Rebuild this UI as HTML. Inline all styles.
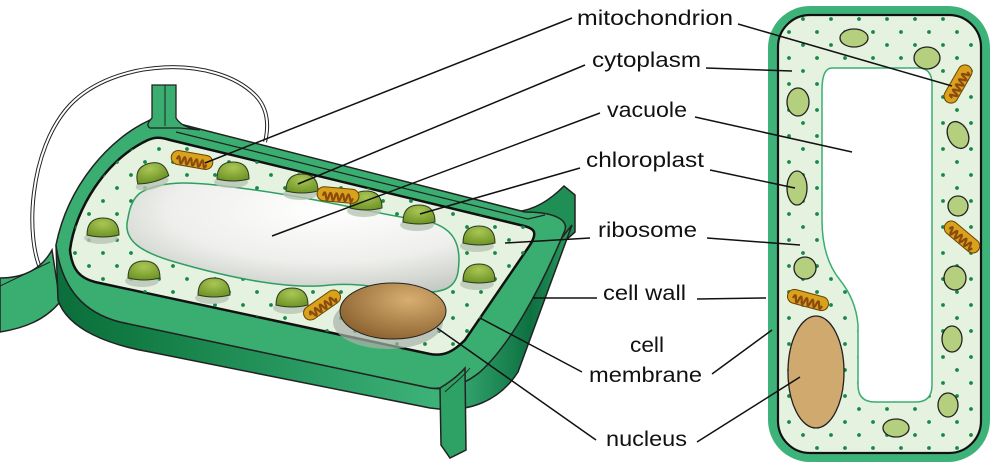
<!DOCTYPE html>
<html><head><meta charset="utf-8"><style>
html,body{margin:0;padding:0;background:#fff;width:1000px;height:470px;overflow:hidden}
svg{display:block}
text{font-family:"Liberation Sans",sans-serif;font-size:21px;fill:#111}
</style></head><body>
<svg width="1000" height="470" viewBox="0 0 1000 470" xmlns="http://www.w3.org/2000/svg">
<defs>
<pattern id="dots" width="28" height="26" patternUnits="userSpaceOnUse">
<circle cx="5" cy="6" r="1.9" fill="#17874a"/><circle cx="19" cy="19" r="1.9" fill="#17874a"/>
</pattern>
<linearGradient id="front" x1="0" y1="0" x2="1" y2="0">
<stop offset="0" stop-color="#0b6e3c"/><stop offset="0.15" stop-color="#117b43"/>
<stop offset="0.75" stop-color="#3db37a"/><stop offset="0.92" stop-color="#0d7040"/><stop offset="1" stop-color="#2a9c62"/>
</linearGradient>
<radialGradient id="vac" cx="0.6" cy="0.25" r="0.8">
<stop offset="0" stop-color="#fff"/><stop offset="0.6" stop-color="#eeefec"/><stop offset="1" stop-color="#c4c8c2"/>
</radialGradient>
<radialGradient id="chl" cx="0.5" cy="0.3" r="0.7">
<stop offset="0" stop-color="#a9c655"/><stop offset="1" stop-color="#6f9426"/>
</radialGradient>
<radialGradient id="nuc" cx="0.65" cy="0.3" r="0.75">
<stop offset="0" stop-color="#d8ae72"/><stop offset="1" stop-color="#8c6330"/>
</radialGradient>
<g id="ch">
<ellipse cx="-2" cy="8" rx="17" ry="6" fill="#b8c4b4" opacity="0.8"/>
<path d="M-16,5 Q-16,-12 0,-12 Q16,-12 16,5 Q0,9 -16,5 Z" fill="url(#chl)" stroke="#2d3a1e" stroke-width="1"/>
</g>
<g id="mi">
<rect x="-21" y="-7" width="42" height="14" rx="7" fill="#d8a21c" stroke="#6b4300" stroke-width="1"/>
<path d="M-15,2 q1.5,-7 3,0 q1.5,7 3,0 q1.5,-7 3,0 q1.5,7 3,0 q1.5,-7 3,0 q1.5,7 3,0 q1.5,-7 3,0 q1.5,7 3,0 q1.5,-7 3,0 q1.5,7 3,0" fill="none" stroke="#8a4a10" stroke-width="2.2"/>
</g>
</defs>

<!-- loop -->
<path d="M42,272 C25,240 28,150 70,105 C115,58 215,55 255,95 C270,110 268,130 265,142" fill="none" stroke="#222" stroke-width="4"/>
<path d="M42,272 C25,240 28,150 70,105 C115,58 215,55 255,95 C270,110 268,130 265,142" fill="none" stroke="#fff" stroke-width="2"/>

<!-- left stub -->
<path d="M0,278 C25,278 42,268 52,250 L60,302 C45,320 25,328 0,332 Z" fill="#3aad70" stroke="#222" stroke-width="1.5"/>
<line x1="0" y1="286" x2="50" y2="262" stroke="#222" stroke-width="1"/>
<!-- right upper stub -->
<path d="M515,212 C535,210 550,200 564,186 L575,195 L575,232 C560,245 545,260 538,275 Z" fill="#1f8f55" stroke="#222" stroke-width="1.5"/>
<!-- front face -->
<path d="M56,245 L58,300 C68,330 110,345 150,352 L430,408 C470,414 500,400 518,372 L572,225 L560,240 C540,290 510,345 470,378 C455,388 440,390 430,388 L120,322 C85,313 62,290 56,245 Z" fill="url(#front)" stroke="#222" stroke-width="1.5"/>
<!-- top wall -->
<path d="M150,120 C110,138 68,185 56,245 C62,290 85,313 120,322 L430,388 C455,390 470,380 480,372 C510,345 540,290 565,230 C568,220 555,212 525,212 L180,124 Z" fill="#3aad70" stroke="#222" stroke-width="1.5"/>
<!-- stalk -->
<path d="M152,85 L176,85 L176,118 Q182,128 200,130 L180,128 L150,128 Q145,125 152,118 Z" fill="#3aad70" stroke="#222" stroke-width="1.3"/>
<line x1="165" y1="85" x2="165" y2="126" stroke="#222" stroke-width="1"/>
<!-- right lower stub -->
<path d="M440,388 C450,382 458,376 465,368 L466,450 L450,458 L441,445 Z" fill="#2ea265" stroke="#222" stroke-width="1.5"/>
<path d="M445,392 C452,385 462,378 470,368" fill="none" stroke="#222" stroke-width="1"/>

<!-- interior -->
<path d="M148,140 C105,160 75,210 70,250 C72,270 80,278 95,282 L430,354 C445,357 455,350 465,340 L530,245 C538,232 535,228 520,225 L170,140 C160,137 155,137 148,140 Z" fill="#e6f2e0" stroke="#111" stroke-width="2.5"/>
<path d="M148,140 C105,160 75,210 70,250 C72,270 80,278 95,282 L430,354 C445,357 455,350 465,340 L530,245 C538,232 535,228 520,225 L170,140 C160,137 155,137 148,140 Z" fill="url(#dots)"/>
<path d="M176,132 L528,219 L545,215" fill="none" stroke="#222" stroke-width="1.2"/>
<!-- vacuole -->
<path d="M140,193 C165,178 200,183 240,188 C320,198 380,215 420,220 C455,225 462,245 458,272 C455,290 440,293 420,292 C390,290 360,282 330,285 C290,290 230,278 175,262 C140,252 122,240 128,218 C130,205 134,198 140,193 Z" fill="url(#vac)" stroke="#2f9e62" stroke-width="1.5"/>
<!-- nucleus -->
<ellipse cx="388" cy="322" rx="55" ry="27" fill="#a8b1a6" opacity="0.7"/>
<ellipse cx="393" cy="311" rx="53" ry="28" fill="url(#nuc)" stroke="#222" stroke-width="1"/>

<use href="#ch" transform="translate(152,175) rotate(-15)"/>
<use href="#ch" x="233" y="174"/>
<use href="#ch" x="302" y="186"/>
<use href="#ch" x="366" y="203"/>
<use href="#ch" x="419" y="217"/>
<use href="#ch" x="479" y="238"/>
<use href="#ch" x="103" y="230"/>
<use href="#ch" x="144" y="273"/>
<use href="#ch" x="214" y="290"/>
<use href="#ch" x="292" y="300"/>
<use href="#ch" x="479" y="276"/>
<use href="#mi" transform="translate(192,160) rotate(10)"/>
<use href="#mi" transform="translate(338,195) rotate(5)"/>
<use href="#mi" transform="translate(322,305) rotate(-35)"/>

<!-- right cell -->
<rect x="768" y="6" width="222" height="456" rx="42" fill="#3db37a"/>
<rect x="778" y="15" width="203" height="438" rx="32" fill="#e6f2e0" stroke="#111" stroke-width="2.2"/>
<rect x="778" y="15" width="203" height="438" rx="32" fill="url(#dots)"/>
<path d="M832,68 L918,68 Q932,68 932,84 L932,385 Q932,402 916,402 L875,402 Q858,402 858,385 L858,325 Q856,300 840,280 Q822,258 822,220 L822,90 Q822,68 832,68 Z" fill="#fff" stroke="#3aad70" stroke-width="1.5"/>
<ellipse cx="816" cy="372" rx="28" ry="56" fill="#d0a96f" stroke="#222" stroke-width="1.3"/>
<g fill="#b4cf7e" stroke="#222" stroke-width="1.3">
<ellipse cx="854" cy="38" rx="14" ry="9"/>
<ellipse cx="927" cy="58" rx="13" ry="11"/>
<ellipse cx="798" cy="102" rx="11" ry="14"/>
<ellipse cx="958" cy="135" rx="10" ry="14" transform="rotate(-25 958 135)"/>
<ellipse cx="797" cy="188" rx="10" ry="17"/>
<ellipse cx="958" cy="206" rx="10" ry="10"/>
<ellipse cx="805" cy="268" rx="11" ry="11"/>
<ellipse cx="955" cy="278" rx="11" ry="12"/>
<ellipse cx="952" cy="339" rx="10" ry="13"/>
<ellipse cx="948" cy="405" rx="10" ry="12"/>
<ellipse cx="896" cy="428" rx="13" ry="9"/>
</g>
<use href="#mi" transform="translate(958,84) rotate(-60)"/>
<use href="#mi" transform="translate(962,237) rotate(40)"/>
<use href="#mi" transform="translate(808,300) rotate(15)"/>

<!-- leader lines -->
<g stroke="#111" stroke-width="1.5" fill="none">
<line x1="572" y1="18" x2="205" y2="163"/><line x1="738" y1="24" x2="952" y2="86"/>
<line x1="585" y1="65" x2="298" y2="184"/><line x1="706" y1="68" x2="792" y2="71"/>
<line x1="600" y1="113" x2="272" y2="236"/><line x1="695" y1="117" x2="852" y2="152"/>
<line x1="580" y1="168" x2="420" y2="214"/><line x1="710" y1="170" x2="795" y2="188"/>
<line x1="590" y1="238" x2="505" y2="243"/><line x1="707" y1="238" x2="800" y2="245"/>
<line x1="597" y1="298" x2="533" y2="298"/><line x1="697" y1="299" x2="766" y2="298"/>
<line x1="582" y1="372" x2="480" y2="318"/><line x1="712" y1="374" x2="772" y2="330"/>
<line x1="596" y1="440" x2="437" y2="328"/><line x1="697" y1="442" x2="800" y2="377"/>
</g>

<text x="577" y="25" textLength="156" lengthAdjust="spacingAndGlyphs">mitochondrion</text>
<text x="592" y="67" textLength="109" lengthAdjust="spacingAndGlyphs">cytoplasm</text>
<text x="607" y="117" textLength="80" lengthAdjust="spacingAndGlyphs">vacuole</text>
<text x="586" y="167" textLength="118" lengthAdjust="spacingAndGlyphs">chloroplast</text>
<text x="598" y="237" textLength="99" lengthAdjust="spacingAndGlyphs">ribosome</text>
<text x="603" y="300" textLength="83" lengthAdjust="spacingAndGlyphs">cell wall</text>
<text x="630" y="352" textLength="34" lengthAdjust="spacingAndGlyphs">cell</text>
<text x="589" y="382" textLength="113" lengthAdjust="spacingAndGlyphs">membrane</text>
<text x="606" y="446" textLength="81" lengthAdjust="spacingAndGlyphs">nucleus</text>
</svg>
</body></html>
